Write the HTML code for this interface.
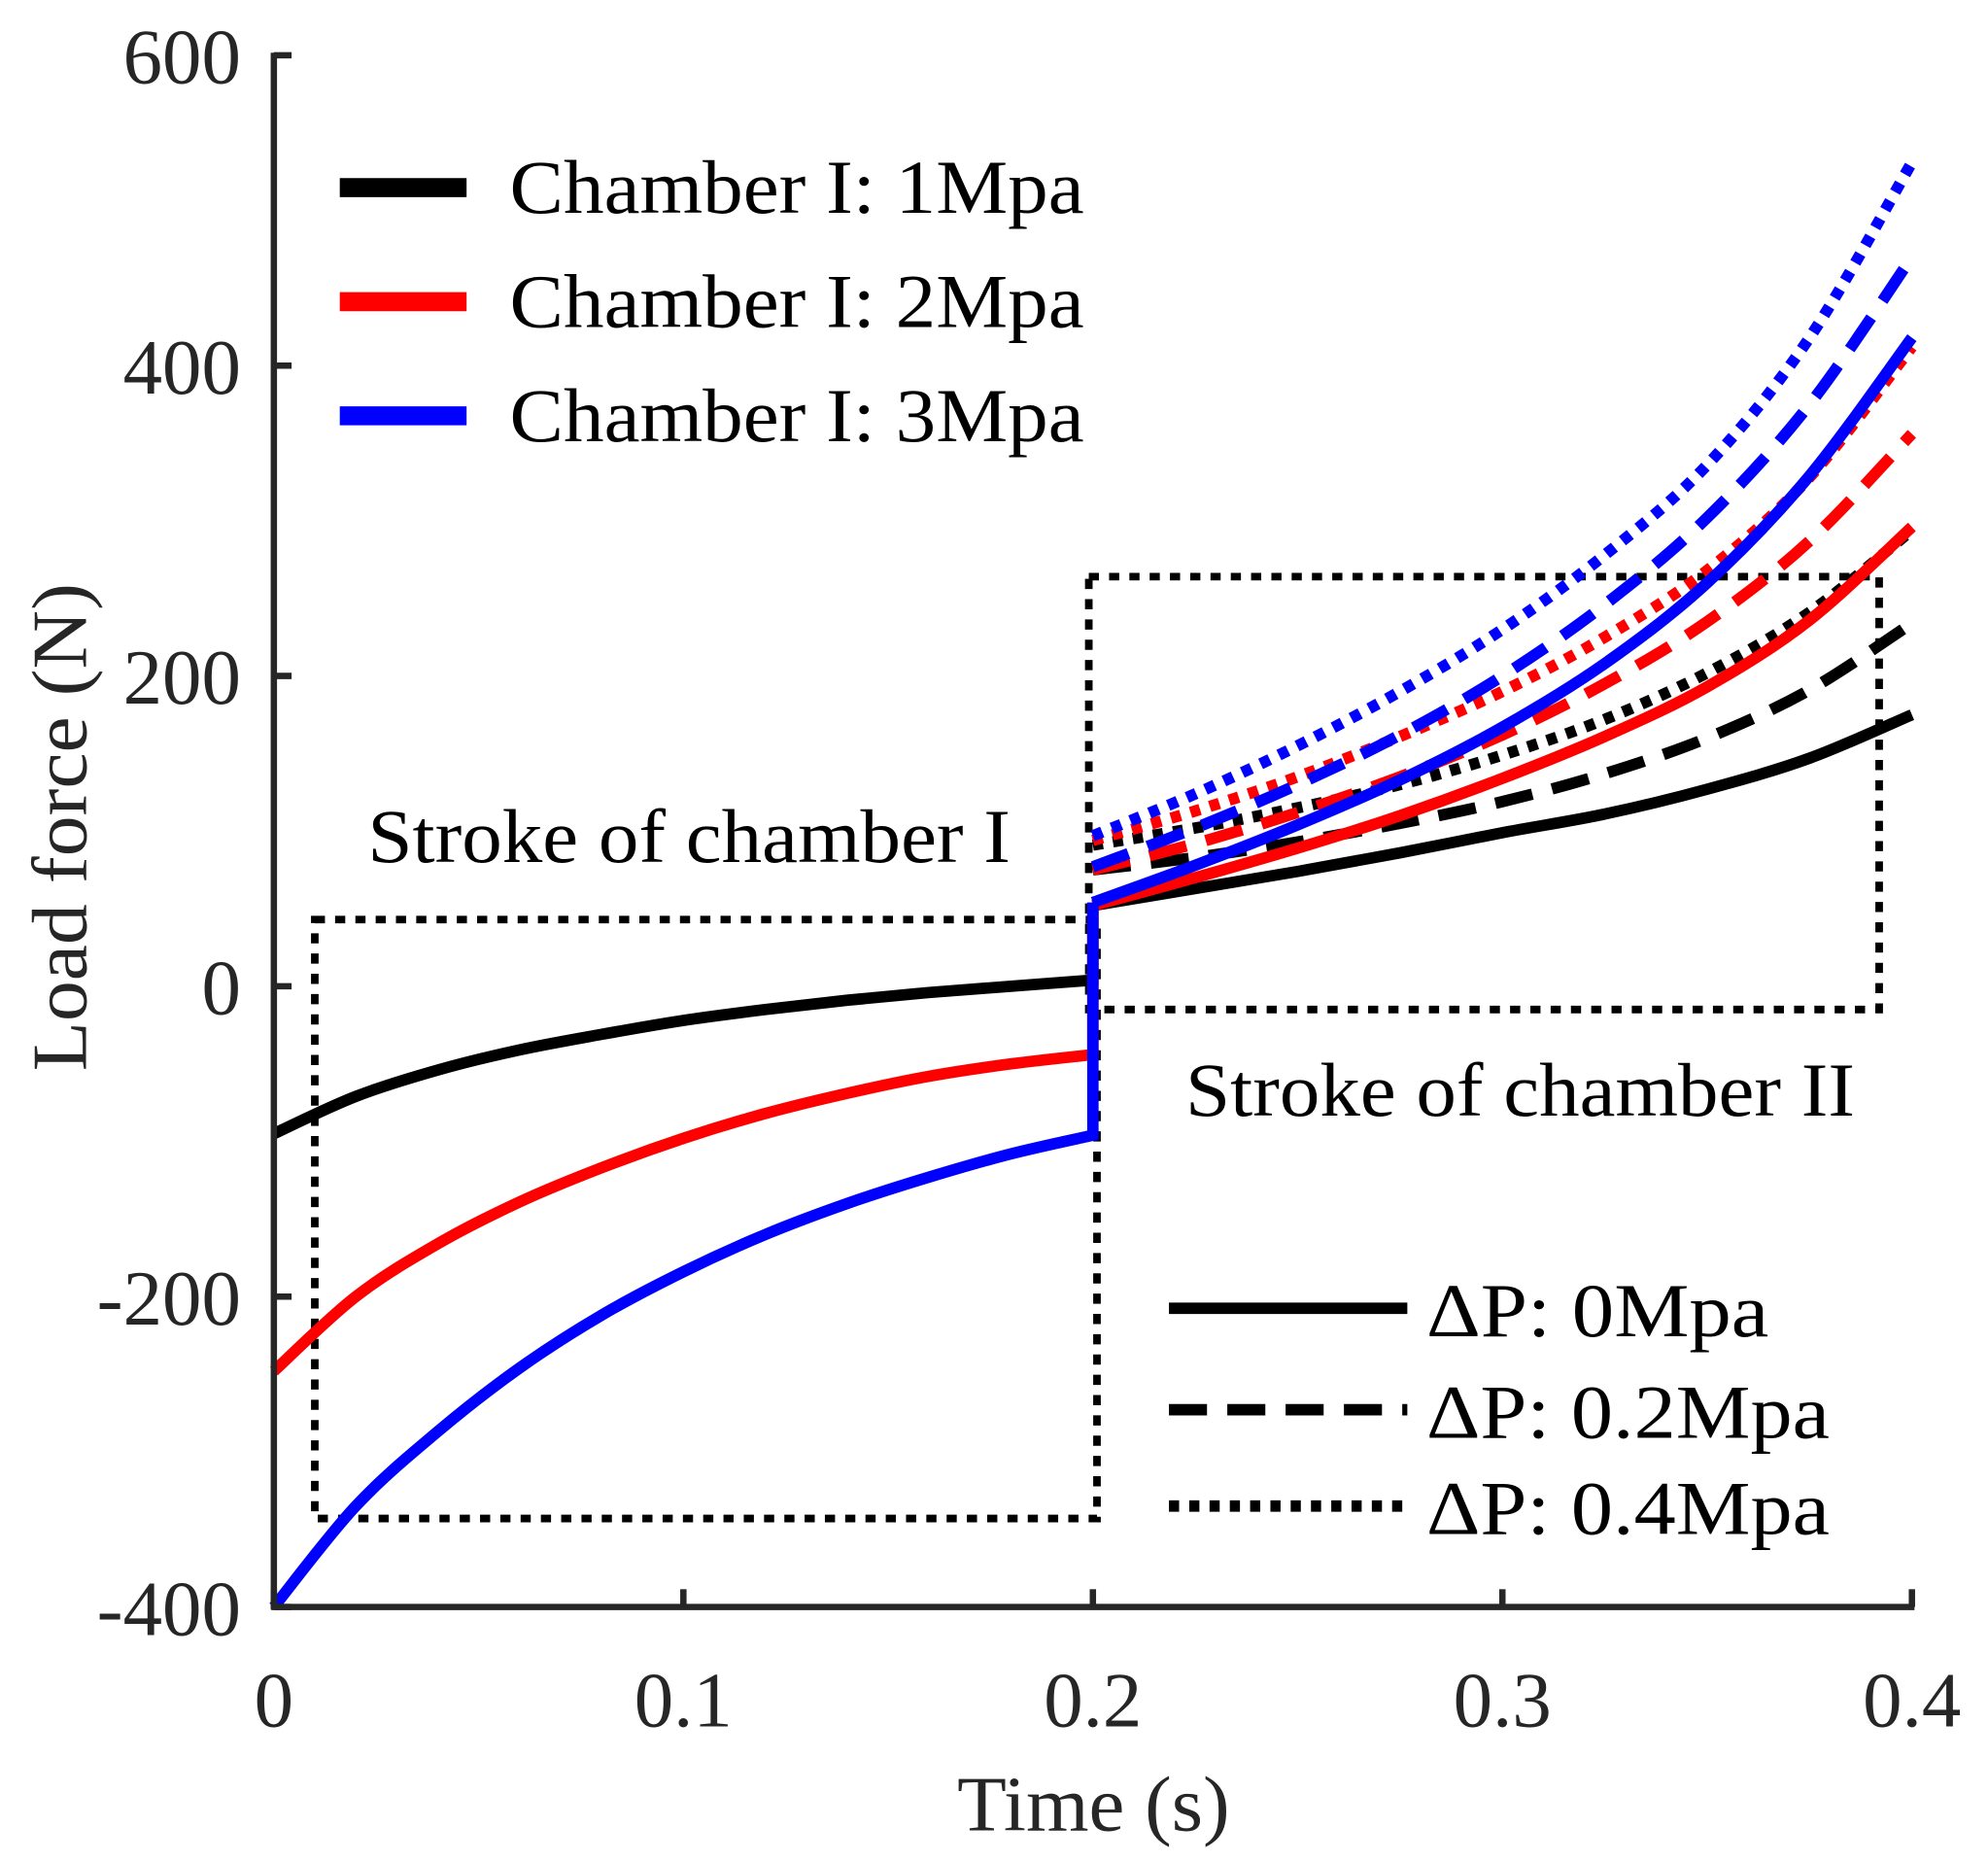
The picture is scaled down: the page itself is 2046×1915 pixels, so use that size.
<!DOCTYPE html>
<html><head><meta charset="utf-8"><style>
html,body{margin:0;padding:0;background:#fff}
svg{display:block}
text{font-family:"Liberation Serif",serif;fill:#262626}
</style></head><body>
<svg id="chart" width="2046" height="1915" viewBox="0 0 1568 1468" preserveAspectRatio="none" xmlns="http://www.w3.org/2000/svg">
<g id="plot"></g>
<g id="axes"></g>
<g>
 <line x1="268" y1="148" x2="368" y2="148" stroke="#000" stroke-width="15"/>
 <text x="402" y="168" font-size="60" textLength="453" lengthAdjust="spacingAndGlyphs" style="fill:#000">Chamber I: 1Mpa</text>
 <line x1="268" y1="238" x2="368" y2="238" stroke="#f00" stroke-width="15"/>
 <text x="402" y="258" font-size="60" textLength="453" lengthAdjust="spacingAndGlyphs" style="fill:#000">Chamber I: 2Mpa</text>
 <line x1="268" y1="328" x2="368" y2="328" stroke="#00f" stroke-width="15"/>
 <text x="402" y="348" font-size="60" textLength="453" lengthAdjust="spacingAndGlyphs" style="fill:#000">Chamber I: 3Mpa</text>
</g>
<g>
 <line x1="922" y1="1032" x2="1110" y2="1032" stroke="#000" stroke-width="9"/>
 <text x="1125" y="1054" font-size="60" textLength="270" lengthAdjust="spacingAndGlyphs" style="fill:#000">ΔP: 0Mpa</text>
 <line x1="922" y1="1112" x2="1110" y2="1112" stroke="#000" stroke-width="9" stroke-dasharray="30 16"/>
 <text x="1125" y="1134" font-size="60" textLength="318" lengthAdjust="spacingAndGlyphs" style="fill:#000">ΔP: 0.2Mpa</text>
 <line x1="922" y1="1188" x2="1110" y2="1188" stroke="#000" stroke-width="9" stroke-dasharray="8 8"/>
 <text x="1125" y="1210" font-size="60" textLength="318" lengthAdjust="spacingAndGlyphs" style="fill:#000">ΔP: 0.4Mpa</text>
</g>
<text x="290" y="680" font-size="60" textLength="507" lengthAdjust="spacingAndGlyphs" style="fill:#000">Stroke of chamber I</text>
<text x="935" y="880" font-size="60" textLength="528" lengthAdjust="spacingAndGlyphs" style="fill:#000">Stroke of chamber II</text>
<text x="755" y="1444" font-size="62" textLength="215" lengthAdjust="spacingAndGlyphs">Time (s)</text>
<text transform="translate(68,845) rotate(-90)" font-size="62" textLength="385" lengthAdjust="spacingAndGlyphs">Load force (N)</text>
</svg>
<script>
const xTicks = [0, 0.1, 0.2, 0.3, 0.4];
const xTickLabels = ["0", "0.1", "0.2", "0.3", "0.4"];
const yTicks = [-400, -200, 0, 200, 400, 600];
const yTickLabels = ["-400", "-200", "0", "200", "400", "600"];
const tStroke1 = [0, 0.02, 0.04, 0.06, 0.08, 0.1, 0.12, 0.14, 0.16, 0.18, 0.2];
const chamber1Stroke1 = [-95, -71, -54, -41, -31, -22, -15, -9, -4, 0, 4];
const chamber2Stroke1 = [-248, -200, -166, -139, -117, -98, -82, -69, -58, -50, -44];
const chamber3Stroke1 = [-400, -335, -287, -246, -212, -184, -160, -140, -123, -108, -96];
const tStroke2 = [0.2, 0.225, 0.25, 0.275, 0.3, 0.325, 0.35, 0.375, 0.4];
const c1dp0 = [52, 63, 74, 86, 99, 111, 127, 147, 175];
const c1dp02 = [75, 83, 93, 105, 119, 137, 160, 191, 234];
const c1dp04 = [91, 102, 115, 130, 149, 172, 202, 241, 294];
const c2dp0 = [52, 70, 89, 110, 134, 161, 193, 236, 296];
const c2dp02 = [75, 92, 112, 135, 162, 195, 235, 287, 356];
const c2dp04 = [94, 113, 135, 161, 190, 225, 268, 328, 412];
const c3dp0 = [54, 78, 104, 133, 167, 208, 260, 329, 418];
const c3dp02 = [77, 102, 130, 162, 200, 246, 302, 375, 470];
const c3dp04 = [97, 124, 155, 190, 230, 278, 336, 418, 531];
const box1 = {t0: 0.01, t1: 0.201, v0: -343, v1: 43};
const box2 = {t0: 0.199, t1: 0.392, v0: -15, v1: 264};

const NS = "http://www.w3.org/2000/svg";
const X = t => 216 + (t / 0.4) * 1292;
const Y = v => 778 - v * 1.224;
const plot = document.getElementById('plot');
const axes = document.getElementById('axes');

function mk(tag, attrs, parent) {
  const e = document.createElementNS(NS, tag);
  for (const k in attrs) e.setAttribute(k, attrs[k]);
  parent.appendChild(e);
  return e;
}
function pathD(ts, vs) {
  const p = ts.map((t, i) => [X(t), Y(vs[i])]);
  let d = 'M' + p[0][0] + ',' + p[0][1];
  for (let i = 0; i < p.length - 1; i++) {
    const p0 = p[i - 1] || p[i], p1 = p[i], p2 = p[i + 1], p3 = p[i + 2] || p2;
    const c1 = [p1[0] + (p2[0] - p0[0]) / 6, p1[1] + (p2[1] - p0[1]) / 6];
    const c2 = [p2[0] - (p3[0] - p1[0]) / 6, p2[1] - (p3[1] - p1[1]) / 6];
    d += ' C' + c1 + ' ' + c2 + ' ' + p2;
  }
  return d;
}
function box(b, name) {
  const r = mk('rect', {x: X(b.t0), y: Y(b.v1), width: X(b.t1) - X(b.t0), height: Y(b.v0) - Y(b.v1), fill: 'none', stroke: '#000', 'stroke-width': 6, 'stroke-dasharray': '8 8'}, plot);
  
  
}
box(box1, 'stroke-box-chamber-1');
box(box2, 'stroke-box-chamber-2');

const SW = 9;
const series2 = [
  [c1dp02, '#000', '30 16', 'line-1mpa-dp0.2'], [c1dp04, '#000', '8 8', 'line-1mpa-dp0.4'],
  [c2dp02, '#f00', '30 16', 'line-2mpa-dp0.2'], [c2dp04, '#f00', '8 8', 'line-2mpa-dp0.4'],
  [c3dp02, '#00f', '30 16', 'line-3mpa-dp0.2'], [c3dp04, '#00f', '8 8', 'line-3mpa-dp0.4'],
  [c1dp0, '#000', null, 'line-1mpa-dp0'], [c2dp0, '#f00', null, 'line-2mpa-dp0'], [c3dp0, '#00f', null, 'line-3mpa-dp0']
];
series2.forEach(s => {
  const a = {d: pathD(tStroke2, s[0]), fill: 'none', stroke: s[1], 'stroke-width': SW};
  if (s[2]) a['stroke-dasharray'] = s[2];
  const e = mk('path', a, plot);
  
  
});
const series1 = [[chamber1Stroke1, c1dp0, '#000', 'line-1mpa-stroke1'], [chamber2Stroke1, c2dp0, '#f00', 'line-2mpa-stroke1'], [chamber3Stroke1, c3dp0, '#00f', 'line-3mpa-stroke1']];
series1.forEach(s => {
  const d = pathD(tStroke1, s[0]) + ' L' + X(0.2) + ',' + Y(s[1][0]);
  const e = mk('path', {d: d, fill: 'none', stroke: s[2], 'stroke-width': SW}, plot);
  
  
});

const yl = mk('line', {x1: 216, y1: Y(600) - 2, x2: 216, y2: Y(-400) + 2, stroke: '#262626', 'stroke-width': 5}, axes);


const xl = mk('line', {x1: 214, y1: Y(-400), x2: X(0.4) + 2, y2: Y(-400), stroke: '#262626', 'stroke-width': 5}, axes);


xTicks.forEach((t, i) => {
  const tk = mk('line', {x1: X(t), y1: Y(-400), x2: X(t), y2: Y(-400) - 14, stroke: '#262626', 'stroke-width': 5}, axes);
  
  
  const lb = mk('text', {x: X(t), y: 1362, 'font-size': 62, 'text-anchor': 'middle'}, axes);
  lb.textContent = xTickLabels[i];
  
  
});
yTicks.forEach((v, i) => {
  const tk = mk('line', {x1: 216, y1: Y(v), x2: 230, y2: Y(v), stroke: '#262626', 'stroke-width': 5}, axes);
  
  
  const lb = mk('text', {x: 190, y: Y(v) + 22, 'font-size': 62, 'text-anchor': 'end'}, axes);
  lb.textContent = yTickLabels[i];
  
  
});
</script>
</body></html>
